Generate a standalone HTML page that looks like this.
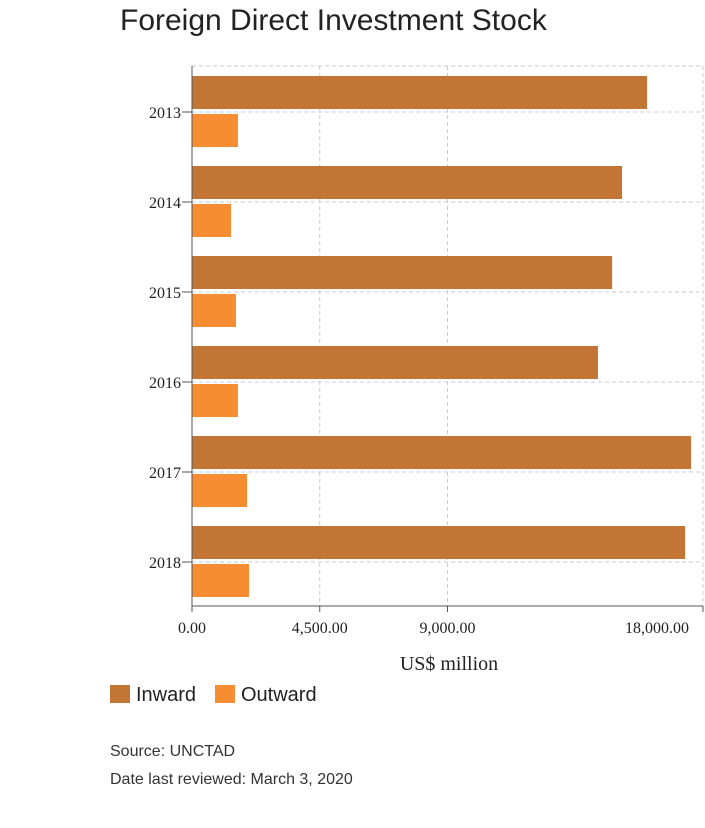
<!DOCTYPE html>
<html><head><meta charset="utf-8"><style>
body{margin:0;background:#fff;width:705px;height:823px;overflow:hidden;font-family:"Liberation Sans",sans-serif;}
</style></head><body>
<svg width="705" height="823" xmlns="http://www.w3.org/2000/svg">
<text x="120" y="30" font-size="30" fill="#222" font-family="Liberation Sans, sans-serif">Foreign Direct Investment Stock</text>
<g id="grid"></g><g id="bars"></g><g id="axes"></g>
<text x="449" y="670" font-size="20" text-anchor="middle" fill="#222" font-family="Liberation Serif, serif">US$ million</text>
<g>
<rect x="110" y="685" width="20" height="18" fill="#c27535"/>
<text x="136" y="701" font-size="20" fill="#222">Inward</text>
<rect x="215" y="685" width="20" height="18" fill="#f78d33"/>
<text x="241" y="701" font-size="20" fill="#222">Outward</text>
</g>
<text x="110" y="756" font-size="16" fill="#333">Source: UNCTAD</text>
<text x="110" y="784" font-size="16" fill="#333">Date last reviewed: March 3, 2020</text>
</svg>
<script>
const years=["2013","2014","2015","2016","2017","2018"];
const inward=[16030,15150,14800,14300,17580,17370];
const outward=[1620,1375,1550,1620,1940,2010];
const xTicks=[0,4500,9000,18000];
const xTickLabels=["0.00","4,500.00","9,000.00","18,000.00"];
const NS="http://www.w3.org/2000/svg";
const x0=192,x1=703,y0=66,yB=606,band=90,top0=67;
const xs=v=>x0+(v/18000)*(x1-x0);
const yc=i=>top0+band*i+45;
function mk(tag,attrs,parent,txt){const e=document.createElementNS(NS,tag);for(const k in attrs)e.setAttribute(k,attrs[k]);if(txt!==undefined)e.textContent=txt;document.getElementById(parent).appendChild(e);return e;}
const dash={stroke:"#ccc","stroke-dasharray":"4,3","stroke-width":1};
let g=mk("line",Object.assign({x1:x0,x2:x1,y1:y0,y2:y0},dash),"grid");


xTicks.forEach((t,i)=>{if(t===0)return;const l=mk("line",Object.assign({x1:xs(t),x2:xs(t),y1:y0,y2:yB},dash),"grid");

});
years.forEach((y,i)=>{const l=mk("line",Object.assign({x1:x0,x2:x1,y1:yc(i),y2:yc(i)},dash),"grid");


const a=mk("rect",{x:x0,y:yc(i)-36,width:xs(inward[i])-x0,height:33,fill:"#c27535"},"bars");


const b=mk("rect",{x:x0,y:yc(i)+2,width:xs(outward[i])-x0,height:33,fill:"#f78d33"},"bars");


const tk=mk("line",{x1:x0-10,x2:x0,y1:yc(i),y2:yc(i),stroke:"#555"},"axes");


const tl=mk("text",{x:x0-11,y:yc(i)+6,"text-anchor":"end","font-size":16,fill:"#222","font-family":"Liberation Serif, serif"},"axes",y);

});
const ya=mk("line",{x1:x0,x2:x0,y1:y0,y2:yB,stroke:"#555"},"axes");


const xa=mk("line",{x1:x0,x2:x1,y1:yB,y2:yB,stroke:"#555"},"axes");


xTicks.forEach((t,i)=>{const l=mk("line",{x1:xs(t),x2:xs(t),y1:yB,y2:yB+6,stroke:"#555"},"axes");


let lx=xs(t);if(lx>x1-50)lx=x1-46;
const tx=mk("text",{x:lx,y:633,"text-anchor":"middle","font-size":16,fill:"#222","font-family":"Liberation Serif, serif"},"axes",xTickLabels[i]);

});
</script>
</body></html>
